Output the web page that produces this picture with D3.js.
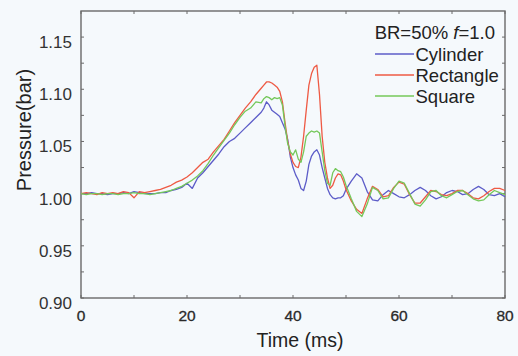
<!DOCTYPE html>
<html>
<head>
<meta charset="utf-8">
<script src="https://cdn.jsdelivr.net/npm/d3@7"></script>
<style>
  html, body { margin: 0; padding: 0; background: #f5f9fc; }
  svg { display: block; font-family: "Liberation Sans", Arial, Helvetica, sans-serif; }
</style>
</head>
<body>
<div id="chart"></div>
<script>
// time axis (ms)
const timeMs = [
  0, 1, 2, 3, 4, 5, 6, 7, 8, 9, 10, 11, 12, 13, 14, 15, 16, 17, 18, 19, 20,
  21, 22, 23, 24, 25, 26, 27, 28, 29, 30, 31, 32, 33, 34,
  34.5, 35, 35.5, 36, 36.5, 37, 37.5, 38, 38.5, 39, 39.5, 40, 40.5, 41, 41.5,
  42, 42.5, 43, 43.5, 44, 44.5, 45, 45.5, 46, 46.5, 47, 47.5, 48, 48.5, 49, 49.5, 50,
  51, 52, 53, 54, 55, 56, 57, 58, 59, 60, 61, 62, 63, 64, 65, 66, 67, 68, 69, 70,
  71, 72, 73, 74, 75, 76, 77, 78, 79, 80
];

const cylinder = [
  1.000, 1.000, 1.001, 1.000, 1.000, 0.999, 1.000, 1.000, 1.001, 1.000, 1.002,
  1.001, 1.000, 1.000, 1.000, 1.001, 1.001, 1.003, 1.004, 1.006, 1.010,
  1.005, 1.015, 1.020, 1.026, 1.032, 1.038, 1.045, 1.050, 1.053, 1.058, 1.063, 1.068, 1.073, 1.078,
  1.082, 1.088, 1.085, 1.080, 1.078, 1.076, 1.074, 1.068, 1.062, 1.052, 1.035, 1.025, 1.018, 1.013, 1.005,
  1.003, 1.012, 1.028, 1.036, 1.040, 1.042, 1.037, 1.025, 1.015, 1.005, 0.999, 0.996, 0.995, 0.996, 0.996, 0.998, 1.004,
  1.012, 1.019, 1.015, 1.002, 0.994, 0.993, 0.999, 1.003, 1.000, 0.997, 0.996, 0.999, 1.003, 1.006, 1.003, 0.998, 0.995, 0.997, 1.001, 1.003,
  1.002, 0.999, 1.000, 1.004, 1.007, 1.004, 0.999, 0.998, 1.000, 0.997
];

const rectangle = [
  1.000, 1.001, 1.000, 0.999, 1.001, 1.000, 1.001, 1.000, 1.002, 1.001, 0.996,
  1.002, 1.001, 1.002, 1.003, 1.004, 1.006, 1.008, 1.011, 1.013, 1.016,
  1.020, 1.025, 1.030, 1.033, 1.040, 1.046, 1.052, 1.060, 1.068, 1.075, 1.082, 1.088, 1.095, 1.101,
  1.104, 1.107, 1.107, 1.106, 1.104, 1.102, 1.098, 1.088, 1.068, 1.050, 1.038, 1.030, 1.026, 1.025, 1.035,
  1.055, 1.080, 1.104, 1.115, 1.121, 1.123, 1.095, 1.055, 1.030, 1.015, 1.005, 1.008, 1.015, 1.019, 1.018, 1.012, 1.004,
  0.993, 0.985, 0.981, 0.995, 1.007, 1.004, 0.997, 0.998, 1.006, 1.011, 1.009, 0.999, 0.991, 0.991, 0.997, 1.003, 1.002, 0.999, 0.998, 1.000,
  1.003, 1.003, 1.000, 0.996, 0.995, 0.998, 1.002, 1.005, 1.005, 1.003
];

const square = [
  1.000, 0.999, 1.000, 1.000, 0.999, 1.000, 1.000, 0.999, 1.000, 1.000, 1.001,
  1.000, 1.000, 0.999, 1.000, 1.001, 1.002, 1.003, 1.005, 1.007, 1.010,
  1.013, 1.017, 1.022, 1.029, 1.037, 1.044, 1.051, 1.058, 1.066, 1.073, 1.079, 1.082, 1.088, 1.087,
  1.091, 1.093, 1.092, 1.090, 1.092, 1.091, 1.092, 1.085, 1.065, 1.048, 1.040, 1.037, 1.042, 1.033, 1.030,
  1.040, 1.055, 1.058, 1.060, 1.059, 1.060, 1.058, 1.040, 1.022, 1.010, 1.008, 1.020, 1.024, 1.022, 1.021, 1.016, 1.008,
  0.995, 0.983, 0.978, 0.990, 1.006, 1.003, 0.995, 0.996, 1.005, 1.012, 1.010, 1.000, 0.990, 0.988, 0.994, 1.002, 1.003, 0.998, 0.996, 0.999,
  1.002, 1.003, 0.999, 0.995, 0.993, 0.994, 0.999, 1.003, 1.001, 0.999
];

const seriesNames = ["Cylinder", "Rectangle", "Square"];
const seriesColors = ["#5c5cc8", "#ee5a44", "#74c85a"];
const xTicks = [0, 20, 40, 60, 80];
const xMinorTicks = [10, 30, 50, 70];
const yTicks = [0.90, 0.95, 1.00, 1.05, 1.10, 1.15];
const yMinorTicks = [0.925, 0.975, 1.025, 1.075, 1.125];

const width = 518;
const height = 356;
const plot = { left: 81, right: 505, top: 11, bottom: 298 };

const svg = d3.select("#chart")
  .append("svg")
  .attr("width", width)
  .attr("height", height);

const x = d3.scaleLinear().domain([0, 80]).range([plot.left, plot.right]);
const y = d3.scaleLinear().domain([0.9, 1.175]).range([plot.bottom, plot.top]);

const axisColor = "#6a6a6a";
const tickLen = 3;

// frame
svg.append("rect")
  .attr("x", plot.left)
  .attr("y", plot.top)
  .attr("width", plot.right - plot.left)
  .attr("height", plot.bottom - plot.top)
  .attr("fill", "none")
  .attr("stroke", axisColor)
  .attr("stroke-width", 1.4);

// inward ticks on all four sides
const ticks = svg.append("g").attr("stroke", axisColor).attr("stroke-width", 1);
xTicks.concat(xMinorTicks).forEach((t) => {
  ticks.append("line").attr("x1", x(t)).attr("x2", x(t))
    .attr("y1", plot.bottom).attr("y2", plot.bottom - tickLen);
  ticks.append("line").attr("x1", x(t)).attr("x2", x(t))
    .attr("y1", plot.top).attr("y2", plot.top + tickLen);
});
yTicks.concat(yMinorTicks).forEach((v) => {
  ticks.append("line").attr("y1", y(v)).attr("y2", y(v))
    .attr("x1", plot.left).attr("x2", plot.left + tickLen);
  ticks.append("line").attr("y1", y(v)).attr("y2", y(v))
    .attr("x1", plot.right).attr("x2", plot.right - tickLen);
});

// y tick labels
svg.append("g")
  .selectAll("text")
  .data(yTicks)
  .enter()
  .append("text")
  .attr("x", plot.left - 9)
  .attr("y", (d) => y(d) + 5)
  .attr("dy", "0.35em")
  .attr("text-anchor", "end")
  .attr("font-size", 17)
  .attr("fill", "#333")
  .text((d) => d.toFixed(2));

// x tick labels
svg.append("g")
  .selectAll("text")
  .data(xTicks)
  .enter()
  .append("text")
  .attr("x", (d) => x(d))
  .attr("y", 321)
  .attr("text-anchor", "middle")
  .attr("font-size", 15.5)
  .attr("fill", "#2a2a2a")
  .attr("stroke", "#2a2a2a")
  .attr("stroke-width", 0.3)
  .text((d) => d);

// axis titles
svg.append("text")
  .attr("x", 300)
  .attr("y", 347)
  .attr("text-anchor", "middle")
  .attr("font-size", 19.5)
  .attr("fill", "#222")
  .text("Time (ms)");

svg.append("text")
  .attr("transform", "translate(31, 130) rotate(-90)")
  .attr("text-anchor", "middle")
  .attr("font-size", 20)
  .attr("fill", "#222")
  .text("Pressure(bar)");

// curves
const allSeries = [cylinder, rectangle, square];
const line = d3.line()
  .x((d) => x(d[0]))
  .y((d) => y(d[1]));

svg.append("g")
  .selectAll("path")
  .data(allSeries)
  .enter()
  .append("path")
  .attr("d", (s) => line(timeMs.map((t, i) => [t, s[i]])))
  .attr("fill", "none")
  .attr("stroke", (s, i) => seriesColors[i])
  .attr("stroke-width", 1.3)
  .attr("stroke-linejoin", "round");

// legend
const legend = svg.append("g").attr("fill", "#222").attr("font-size", 18.5);
const header = legend.append("text")
  .attr("x", 495)
  .attr("y", 39)
  .attr("text-anchor", "end");
header.append("tspan").text("BR=50% ");
header.append("tspan").attr("font-style", "italic").text("f");
header.append("tspan").text("=1.0");

seriesNames.forEach((name, i) => {
  const base = 61 + i * 21;
  legend.append("line")
    .attr("x1", 375)
    .attr("x2", 414)
    .attr("y1", base - 7)
    .attr("y2", base - 7)
    .attr("stroke", seriesColors[i])
    .attr("stroke-width", 1.3);
  legend.append("text")
    .attr("x", 415.5)
    .attr("y", base)
    .text(name);
});
</script>
</body>
</html>
